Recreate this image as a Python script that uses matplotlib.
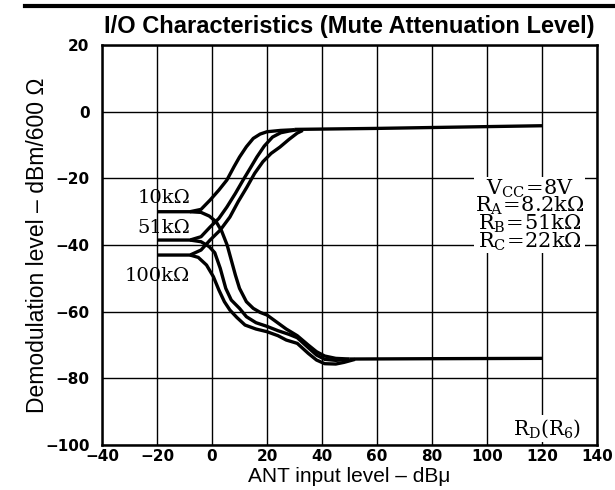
import matplotlib
matplotlib.use("Agg")
import matplotlib.pyplot as plt
from matplotlib.lines import Line2D

plt.rcParams["mathtext.fontset"] = "dejavuserif"

# ---- data (x: ANT input dBu, y: demod level dBm) ----
x_10k_up = [-20, -8, -4, -0.7, 2.5, 5.4, 8, 10, 12.5, 15, 17.5, 20, 25, 30]
y_10k_up = [-30, -30, -29.3, -26.5, -23.5, -20.5, -16.5, -13.6, -10.5, -8, -6.7, -6, -5.6, -5.4]
x_51k_up = [-20, -8, -4, -0.7, 2.5, 5.4, 8.5, 11.3, 14, 16.3, 19, 22, 25, 28, 31]
y_51k_up = [-38.5, -38.5, -37.5, -34.6, -32, -28.6, -24.5, -20.5, -16.8, -13.6, -10.3, -7.6, -6.3, -5.8, -5.4]
x_100k_up = [-20, -8, -4, -0.7, 3, 6.5, 9.5, 12.7, 15.5, 18.5, 21.5, 24.7, 28, 31, 33]
y_100k_up = [-43, -43, -41.5, -38.5, -35.5, -31.6, -27, -22.6, -18.5, -15, -12.5, -10.6, -8.3, -6.4, -5.6]
x_common_up = [30, 60, 90, 120]
y_common_up = [-5.3, -5.0, -4.6, -4.2]

x_10k_lo = [-8, -4, -1, 1.5, 3.5, 5.5, 7, 8.5, 10, 12.5, 15, 17.5, 20, 23, 27, 31, 35, 38, 41, 45, 50]
y_10k_lo = [-30, -30.2, -31.3, -33, -35.8, -40, -44.5, -49, -53, -57, -59, -60.2, -61, -62.8, -65.2, -67.2, -70, -72, -73.3, -74, -74.2]
x_51k_lo = [-8, -4, -1, 1, 3, 5, 7, 10, 12.5, 16, 20, 24, 28, 31, 35, 38, 41, 45, 50]
y_51k_lo = [-38.5, -39, -40.5, -42.3, -47, -53, -56.5, -59, -61.5, -63.3, -64.4, -65.7, -66.8, -67.8, -70.8, -73, -74.3, -74.6, -74.3]
x_100k_lo = [-8, -5, -2, 0.5, 2.5, 4.5, 6.5, 9, 12, 16, 20, 24, 27, 31, 35, 38, 41, 45, 48, 52]
y_100k_lo = [-43, -43.7, -46, -49.5, -53.5, -57, -59.5, -61.7, -64, -65.2, -66, -67.2, -68.5, -69.5, -72.5, -74.5, -75.6, -75.7, -75.2, -74.3]
x_common_lo = [50, 80, 120]
y_common_lo = [-74.2, -74.1, -74.0]

x_ticks = [-40, -20, 0, 20, 40, 60, 80, 100, 120, 140]
y_ticks = [20, 0, -20, -40, -60, -80, -100]
curve_labels = ["10k\u03a9", "51k\u03a9", "100k\u03a9"]
label_y = [-26.0, -35.0, -49.2]

fig = plt.figure(figsize=(6.15, 4.9), dpi=100)
ax = fig.add_axes([0.1659, 0.0918, 0.8048, 0.8162])

lw = 2.4
for xs, ys in [(x_10k_up, y_10k_up), (x_51k_up, y_51k_up), (x_100k_up, y_100k_up),
               (x_common_up, y_common_up), (x_10k_lo, y_10k_lo), (x_51k_lo, y_51k_lo),
               (x_100k_lo, y_100k_lo), (x_common_lo, y_common_lo)]:
    ax.plot(xs, ys, color="black", lw=lw, solid_capstyle="butt", solid_joinstyle="round", zorder=3)

ax.set_xlim(-40, 140)
ax.set_ylim(-100, 20)
ax.set_xticks(x_ticks)
ax.set_yticks(y_ticks)
ax.set_xticklabels([str(v).replace("-", "\u2212") for v in x_ticks])
ax.set_yticklabels([str(v).replace("-", "\u2212") for v in y_ticks])
ax.tick_params(length=0, labelsize=11)
ax.tick_params(axis="x", pad=3)
ax.tick_params(axis="y", pad=9)
for lab in ax.get_xticklabels() + ax.get_yticklabels():
    lab.set_fontweight("bold")
ax.grid(True, color="black", lw=1.0)
for s in ax.spines.values():
    s.set_linewidth(1.8)

serif = "DejaVu Serif"
for txt, yy in zip(curve_labels, label_y):
    ax.text(-8.0, yy, txt, ha="right", va="center", fontsize=14, family=serif, zorder=4)

ax.text(115.5, -31, "$\\mathrm{V_{CC}\\!=\\!8V}$\n$\\mathrm{R_A\\!=\\!8.2k\\Omega}$\n"
        "$\\mathrm{R_B\\!=\\!51k\\Omega}$\n$\\mathrm{R_C\\!=\\!22k\\Omega}$",
        ha="center", va="center", fontsize=15, family=serif, linespacing=0.72,
        bbox=dict(facecolor="white", edgecolor="none", pad=0.5), zorder=4)
ax.text(122, -95, "$\\mathrm{R_D(R_6)}$", ha="center", va="center", fontsize=14.5,
        bbox=dict(facecolor="white", edgecolor="none", pad=1.5), zorder=4)

ax.set_title("I/O Characteristics (Mute Attenuation Level)", fontsize=17,
             fontweight="bold", family="Liberation Sans", pad=9, x=0.5)
ax.set_xlabel("ANT input level \u2013 dB\u03bc", fontsize=15, family="Liberation Sans", labelpad=2)
ax.set_ylabel("Demodulation level \u2013 dBm/600 \u03a9", fontsize=16.5, family="Liberation Sans", labelpad=-3)

fig.add_artist(Line2D([0.04, 1.0], [0.988, 0.988], color="black", lw=3, transform=fig.transFigure))

fig.savefig("out.png", dpi=100)
